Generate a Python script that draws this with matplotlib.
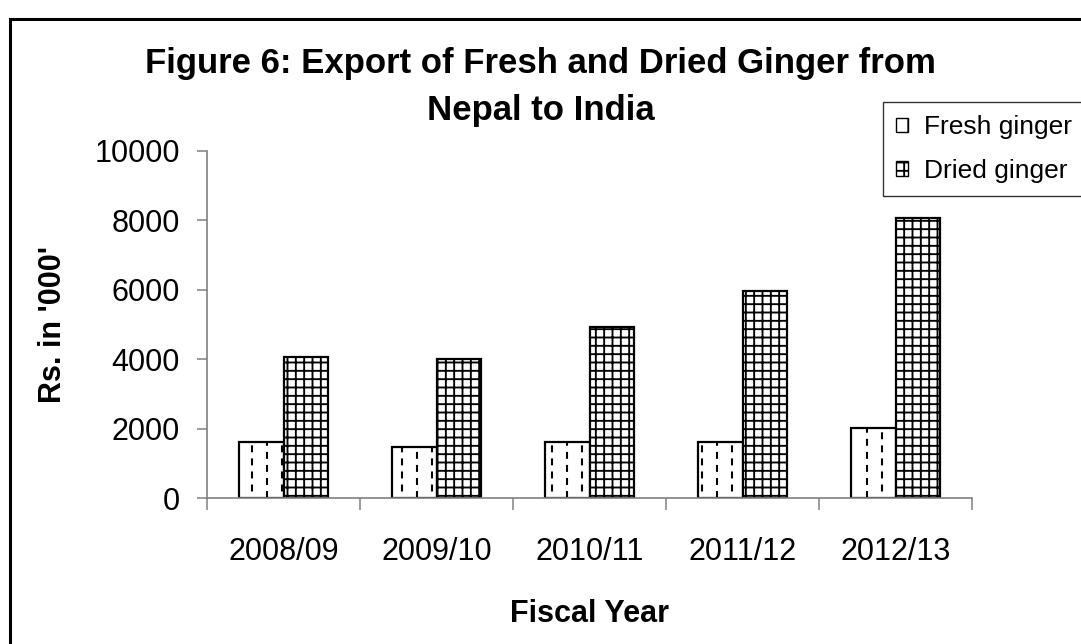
import numpy as np
import matplotlib
matplotlib.use('Agg')
import matplotlib.pyplot as plt
import matplotlib.patches as mpatches

plt.rcParams['font.family'] = ['Liberation Sans', 'DejaVu Sans']
plt.rcParams['hatch.linewidth'] = 1.35
plt.rcParams['lines.scale_dashes'] = False

years = ['2008/09', '2009/10', '2010/11', '2011/12', '2012/13']
fresh = [1620, 1480, 1600, 1600, 2020]  # Rs. in '000'
dried = [4070, 4020, 4930, 5970, 8060]

W, H = 1081, 644
fig = plt.figure(figsize=(W / 100, H / 100), dpi=100)
ax = fig.add_axes([207 / W, 1 - 498 / H, 765 / W, 347 / H])

x = np.arange(len(years))
bw = 0.29
fresh_bars = ax.bar(x - bw / 2, fresh, bw, color='white', edgecolor='black', linewidth=1.6)
dried_bars = ax.bar(x + bw / 2, dried, bw, color='white', edgecolor='black', linewidth=1.6, hatch='++')

# dashed vertical pattern on fresh bars, clipped to each bar
step = 15 / 153
cols = np.arange(-0.5, 4.5, step)
for bar in fresh_bars:
    x0, w, h = bar.get_x(), bar.get_width(), bar.get_height()
    for k in np.where((cols > x0 + 0.01) & (cols < x0 + w - 0.005))[0]:
        ln = ax.vlines(cols[k], 0, h, colors='black', linewidth=1.5,
                       linestyles=[((k % 2) * 4.7, (5, 4.4))])
        ln.set_clip_path(bar)

ax.set_xlim(-0.5, 4.5)
ax.set_ylim(0, 10000)
ax.set_yticks(np.arange(0, 10001, 2000))
ax.set_xticks(np.arange(-0.5, 4.6, 1))
ax.set_xticklabels([])
ax.set_xticks(x, minor=True)
ax.set_xticklabels(years, minor=True)

for s in ['top', 'right']:
    ax.spines[s].set_visible(False)
for s in ['left', 'bottom']:
    ax.spines[s].set_color('#808080')
    ax.spines[s].set_linewidth(1.2)

ax.tick_params(axis='y', which='major', length=7.5, width=1.1, color='#808080', pad=12, labelsize=22)
ax.tick_params(axis='x', which='major', length=8.5, width=1.1, color='#808080')
ax.tick_params(axis='x', which='minor', length=0, pad=28, labelsize=22)

ax.set_ylabel("Rs. in '000'", fontsize=22, fontweight='bold', labelpad=19)
ax.set_xlabel('Fiscal Year', fontsize=22, fontweight='bold', labelpad=23)

fig.text(0.5, 1 - 87 / H, 'Figure 6: Export of Fresh and Dried Ginger from\nNepal to India',
         ha='center', va='center', fontsize=25, fontweight='bold', linespacing=1.55)

handles = [mpatches.Patch(facecolor='white', edgecolor='black', hatch='|'),
           mpatches.Patch(facecolor='white', edgecolor='black', hatch='++')]
leg = fig.legend(handles, ['Fresh ginger', 'Dried ginger'], loc='upper left',
                 bbox_to_anchor=(883 / W, 1 - 102 / H), fontsize=19, frameon=True,
                 fancybox=False, handlelength=0.45, handleheight=0.45,
                 handletextpad=0.6, borderpad=0.5, labelspacing=0.75, borderaxespad=0)
leg.get_frame().set_edgecolor('black')
leg.get_frame().set_linewidth(1.0)

# outer border of the chart area
fig.add_artist(mpatches.Rectangle((9.5 / W, -0.1), 1.0, 1 - 19 / H + 0.1, transform=fig.transFigure,
                                  fill=False, edgecolor='black', linewidth=2.2, clip_on=False))

fig.savefig('out.png', dpi=100)
